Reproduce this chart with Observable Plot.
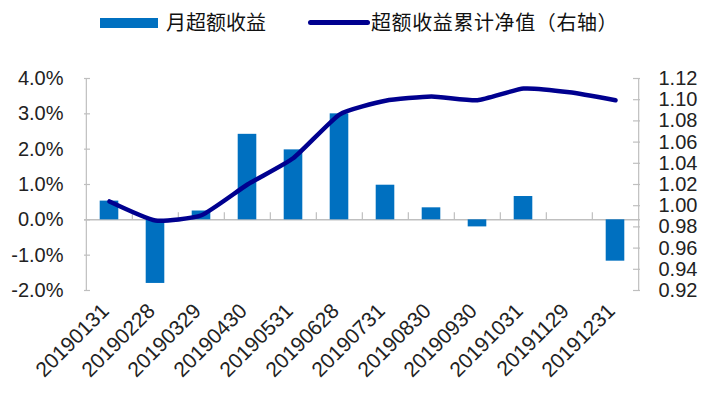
<!DOCTYPE html>
<html>
<head>
<meta charset="utf-8">
<script src="https://cdn.jsdelivr.net/npm/d3@7"></script>
<script src="https://cdn.jsdelivr.net/npm/@observablehq/plot@0.6"></script>
<style>
  html, body { margin: 0; padding: 0; background: #fff; }
  #wrap { position: relative; width: 717px; height: 399px; overflow: hidden; }
  #legend { position: relative; width: 717px; height: 45px; font-family: "Noto Sans CJK SC", sans-serif; font-size: 20px; color: #111; }
  #legend .sw1 { position: absolute; left: 100px; top: 18px; width: 58px; height: 10px; background: #0070C0; }
  #legend .t1 { position: absolute; left: 166px; top: 7px; line-height: 30px; white-space: nowrap; }
  #legend .sw2 { position: absolute; left: 308px; top: 20px; width: 62px; height: 5px; background: #00008f; border-radius: 3px; }
  #legend .t2 { position: absolute; left: 371px; top: 7px; line-height: 30px; white-space: nowrap; letter-spacing: 0.6px; }
  svg { display: block; }
</style>
</head>
<body>
<div id="wrap">
  <div id="legend">
    <div class="sw1"></div><div class="t1">月超额收益</div>
    <div class="sw2"></div><div class="t2">超额收益累计净值（右轴）</div>
  </div>
  <div id="chart"></div>
</div>
<script>
const dates = ["20190131","20190228","20190329","20190430","20190531","20190628","20190731","20190830","20190930","20191031","20191129","20191231"];
const monthlyExcess = [0.53, -1.8, 0.25, 2.42, 1.98, 3.0, 0.98, 0.34, -0.2, 0.66, 0, -1.17]; // percent
const cumNav = [1.004, 0.986, 0.991, 1.020, 1.045, 1.086, 1.099, 1.103, 1.0995, 1.1105, 1.107, 1.0995];
const leftTicks = [-2, -1, 0, 1, 2, 3, 4];
const rightTicks = [0.92, 0.94, 0.96, 0.98, 1.00, 1.02, 1.04, 1.06, 1.08, 1.10, 1.12];

const W = 717, H = 354;
const mL = 84, mR = 77, mT = 33, mB = 109;
const frameW = W - mL - mR;
const bw = frameW / dates.length;
// map right-axis values onto the left scale (percent units)
const toLeft = v => (v - 0.92) / 0.20 * 6 - 2;
const rightMapped = rightTicks.map(toLeft);

const data = dates.map((d, i) => ({date: d, m: monthlyExcess[i], nav: cumNav[i]}));
const axisColor = "#bfbfbf";
const textColor = "#222";

const chart = Plot.plot({
  width: W,
  height: H,
  marginLeft: mL,
  marginRight: mR,
  marginTop: mT,
  marginBottom: mB,
  style: {fontFamily: "'Liberation Sans', Arial, sans-serif", fontSize: "20px", color: textColor, background: "#fff"},
  x: {type: "band", domain: dates, padding: 0},
  y: {domain: [-2, 4]},
  marks: [
    // axis lines
    Plot.ruleX([dates[0]], {x: d => d, y1: -2, y2: 4, dx: -bw / 2, stroke: axisColor, strokeWidth: 1.2}),
    Plot.ruleX([dates[dates.length - 1]], {x: d => d, y1: -2, y2: 4, dx: bw / 2, stroke: axisColor, strokeWidth: 1.2}),
    // inward tick marks
    Plot.ruleY(leftTicks, {y: d => d, insetRight: frameW - 6, stroke: axisColor, strokeWidth: 1.2}),
    Plot.ruleY(rightMapped, {y: d => d, insetLeft: frameW - 7, stroke: axisColor, strokeWidth: 1.2}),
    // zero line and category ticks
    Plot.ruleY([0], {stroke: axisColor, strokeWidth: 1.5}),
    Plot.ruleX(dates.slice(1), {x: d => d, y1: 0, y2: 0.2, dx: -bw / 2, stroke: axisColor, strokeWidth: 1.2}),
    // bars
    Plot.barY(data, {x: "date", y: "m", fill: "#0070C0", insetLeft: 13.7, insetRight: 13.7}),
    // cumulative line
    Plot.line(data, {x: "date", y: d => toLeft(d.nav), stroke: "#00008f", strokeWidth: 4.5, curve: "cardinal", tension: 0.5, strokeLinecap: "round", strokeLinejoin: "round"}),
    // axes
    Plot.axisY(leftTicks, {anchor: "left", tickSize: 0, tickPadding: 21, tickFormat: d => d.toFixed(1) + "%", fontSize: 20, fill: textColor, label: null}),
    Plot.axisY(rightMapped, {anchor: "right", tickSize: 0, tickPadding: 18, tickFormat: (d, i) => rightTicks[rightMapped.indexOf(d)].toFixed(2), fontSize: 20, fill: textColor, label: null}),
    Plot.axisX({tickSize: 0, tickPadding: 17, tickRotate: -45, fontSize: 21, dx: -4, fill: textColor, label: null})
  ]
});
document.getElementById("chart").appendChild(chart);
</script>
</body>
</html>
